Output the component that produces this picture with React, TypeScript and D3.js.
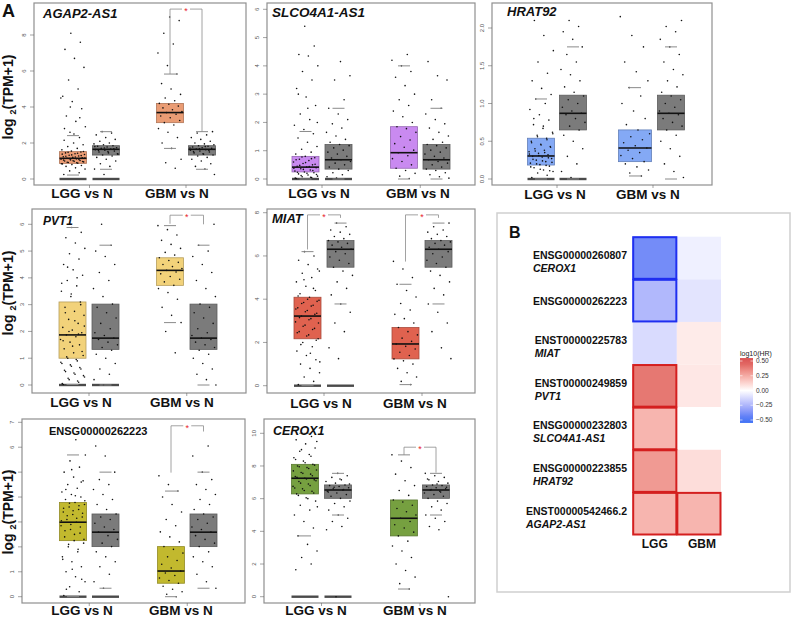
import React from 'react';
import * as d3 from 'd3';

const FONT = "'Liberation Sans', Arial, Helvetica, sans-serif";
const GRAY_FILL = '#7b7b7b';

// ---------------- Box statistics: [lower whisker, Q1, median, Q3, upper whisker] ----------------
const AGAP2_LGG_BOX = [0.22, 0.87, 1.15, 1.52, 2.41];
const AGAP2_N_BOX = [0.54, 1.33, 1.65, 1.85, 2.63];
const AGAP2_GBM_BOX = [1.7, 3.13, 3.69, 4.2, 5.83];
const SLCO_LGG_BOX = [0, 0.25, 0.42, 0.8, 1.68];
const SLCO_N_BOX = [0, 0.35, 0.68, 1.22, 2.5];
const SLCO_GBM_BOX = [0, 0.38, 0.93, 1.85, 4.0];
const HRAT_LGG_BOX = [0, 0.185, 0.305, 0.54, 1.06];
const HRAT_N_BOX = [0, 0.65, 0.87, 1.11, 1.75];
const HRAT_GBM_BOX = [0.04, 0.23, 0.41, 0.65, 1.21];
const PVT1_LGG_BOX = [0.02, 1.0, 1.87, 3.1, 5.88];
const PVT1_N_BOX = [0, 1.33, 1.75, 3.02, 5.22];
const PVT1_GBM_BOX = [2.33, 3.72, 4.28, 4.75, 5.95];
const MIAT_LGG_BOX = [0, 2.17, 3.22, 4.09, 6.2];
const MIAT_N_BOX = [3.78, 5.48, 6.31, 6.71, 7.52];
const MIAT_GBM_BOX = [0.05, 1.24, 1.93, 2.69, 4.69];
const ENSG_LGG_BOX = [0, 2.25, 2.99, 3.78, 5.69];
const ENSG_N_BOX = [0.34, 2.01, 2.59, 3.32, 5.0];
const ENSG_GBM_BOX = [0, 0.54, 1.03, 2.01, 4.24];
const CEROX_LGG_BOX = [3.72, 6.29, 7.25, 8.1, 10.0];
const CEROX_N_BOX = [5.0, 6.02, 6.53, 6.84, 7.55];
const CEROX_GBM_BOX = [0.47, 3.72, 4.8, 5.92, 8.68];

// ---------------- Sample values ----------------
const AGAP2_LGG_PTS = [0.25,0.35,0.45,0.55,0.62,0.7,0.75,0.8,0.84,0.88,0.92,0.95,0.98,1.0,1.03,1.06,1.1,1.12,1.15,1.18,1.2,1.24,1.28,1.32,1.36,1.4,1.45,1.5,1.55,1.62,1.7,1.8,1.9,2.0,2.15,2.3,2.6,2.9,3.2,3.5,3.9,4.3,4.6,5.0,5.5,6.2,6.7,7.2,7.6,8.1,0.85,0.9,0.93,0.97,1.01,1.05,1.08,1.13,1.17,1.22,1.26,1.3,1.34,1.38,1.43,1.48,1.53,2.5,2.8,3.4,4.0,4.5];
const AGAP2_N_PTS = [0.25,0.55,0.7,0.85,1.0,1.1,1.2,1.28,1.33,1.38,1.45,1.5,1.55,1.6,1.63,1.66,1.7,1.74,1.78,1.82,1.85,1.9,1.95,2.0,2.1,2.2,2.3,2.45,2.55,2.63,1.4,1.52,1.58,1.68,1.72,1.8];
const AGAP2_GBM_PTS = [0.6,0.9,1.1,1.7,2.0,2.3,2.6,2.8,3.0,3.13,3.25,3.4,3.5,3.6,3.69,3.75,3.85,3.95,4.05,4.15,4.2,4.35,4.5,4.7,5.0,5.3,5.83,6.3,7.0,7.5,8.1,8.8,9.0];
const SLCO_LGG_PTS = [0.02,0.05,0.08,0.1,0.14,0.18,0.22,0.25,0.28,0.32,0.36,0.4,0.42,0.45,0.5,0.55,0.6,0.65,0.7,0.75,0.8,0.88,0.95,1.05,1.15,1.3,1.45,1.6,1.75,1.9,2.1,2.3,2.6,2.9,3.2,3.5,3.8,4.0,4.35,4.4,4.7,5.4,0.03,0.06,0.12,0.16,0.2,0.24,0.3,0.34,0.38,0.44,0.48,0.52,0.58,0.68,0.72,0.78,2.0,2.5,3.0];
const SLCO_N_PTS = [0.03,0.08,0.15,0.22,0.3,0.35,0.42,0.5,0.56,0.62,0.68,0.74,0.8,0.88,0.95,1.02,1.1,1.18,1.22,1.3,1.4,1.52,1.65,1.8,1.95,2.1,2.3,2.5,2.8,3.5,3.65,4.15];
const SLCO_GBM_PTS = [0.02,0.1,0.2,0.3,0.38,0.5,0.62,0.72,0.82,0.93,1.02,1.12,1.25,1.38,1.5,1.65,1.78,1.85,2.0,2.2,2.4,2.6,2.8,3.0,3.3,3.6,3.8,4.0,4.2,4.4];
const HRAT_LGG_PTS = [0.02,0.05,0.08,0.1,0.12,0.15,0.17,0.19,0.21,0.23,0.25,0.27,0.29,0.3,0.32,0.34,0.36,0.38,0.4,0.43,0.46,0.5,0.54,0.58,0.62,0.67,0.72,0.78,0.85,0.92,1.0,1.06,1.12,1.2,1.3,1.4,1.55,1.7,1.9,2.1,0.11,0.13,0.16,0.18,0.2,0.22,0.24,0.26,0.28,0.31,0.33,0.35,0.37,0.42,0.45,0.48,0.52,0.56,0.6,0.7,0.8];
const HRAT_N_PTS = [0.02,0.1,0.2,0.3,0.4,0.5,0.58,0.65,0.7,0.75,0.8,0.85,0.87,0.9,0.95,1.0,1.05,1.1,1.15,1.22,1.3,1.38,1.45,1.55,1.65,1.75,1.85,1.95,2.02,2.1];
const HRAT_GBM_PTS = [0.04,0.08,0.12,0.16,0.2,0.23,0.27,0.31,0.35,0.38,0.41,0.44,0.48,0.52,0.56,0.6,0.65,0.72,0.8,0.9,1.0,1.1,1.21,1.3,1.42,1.55,1.75,1.9,2.15];
const PVT1_LGG_PTS = [0.02,0.1,0.2,0.3,0.4,0.5,0.6,0.7,0.8,0.9,1.0,1.1,1.2,1.35,1.5,1.6,1.7,1.8,1.87,1.95,2.05,2.15,2.3,2.45,2.6,2.75,2.9,3.1,3.3,3.5,3.7,3.9,4.1,4.3,4.5,4.7,4.9,5.1,5.3,5.5,5.7,5.88,0.05,0.15,0.25,0.35,0.45,0.55,0.65,0.75,0.85,0.95,1.05,1.25,1.45,1.65,1.9,2.0,2.2,2.4,2.7,3.0,3.4,3.8,4.0,4.4];
const PVT1_N_PTS = [0.0,0.2,0.4,0.6,0.8,1.0,1.15,1.3,1.4,1.5,1.6,1.7,1.75,1.85,1.95,2.1,2.3,2.5,2.7,2.9,3.02,3.3,3.6,3.9,4.2,4.5,4.8,5.0,5.22,6.0];
const PVT1_GBM_PTS = [1.2,2.0,2.33,2.6,2.9,3.2,3.45,3.6,3.72,3.85,3.95,4.05,4.15,4.22,4.28,4.35,4.42,4.5,4.58,4.65,4.75,4.85,4.95,5.1,5.25,5.4,5.6,5.8,5.95];
const MIAT_LGG_PTS = [0.05,0.2,0.4,0.6,0.8,1.0,1.2,1.4,1.6,1.8,2.0,2.17,2.35,2.5,2.65,2.8,2.95,3.1,3.22,3.35,3.48,3.6,3.72,3.85,3.95,4.09,4.25,4.4,4.6,4.8,5.0,5.2,5.4,5.6,5.8,6.0,6.2,1.1,1.5,1.9,2.1,2.3,2.45,2.6,2.75,2.9,3.05,3.15,3.3,3.42,3.55,3.68,3.8,3.9,4.0,4.15,4.5,4.9,5.3];
const MIAT_N_PTS = [1.25,1.75,2.5,2.9,3.4,3.78,4.2,4.5,4.8,5.1,5.3,5.48,5.65,5.8,5.95,6.1,6.2,6.31,6.4,6.5,6.58,6.65,6.71,6.8,6.9,7.0,7.1,7.2,7.35,7.52];
const MIAT_GBM_PTS = [0.05,0.2,0.4,0.6,0.8,1.0,1.15,1.24,1.4,1.55,1.7,1.82,1.93,2.05,2.2,2.35,2.5,2.69,2.9,3.1,3.3,3.5,3.8,4.1,4.4,4.69,5.0,5.4,5.75];
const ENSG_LGG_PTS = [0.05,0.2,0.4,0.6,0.8,1.0,1.2,1.4,1.6,1.8,2.0,2.15,2.25,2.4,2.55,2.7,2.85,2.99,3.1,3.2,3.3,3.4,3.5,3.6,3.7,3.78,3.9,4.0,4.1,4.2,4.35,4.5,4.65,4.8,5.0,5.2,5.45,5.69,6.3,0.3,0.7,1.1,1.5,1.9,2.1,2.3,2.5,2.65,2.8,2.9,3.05,3.15,3.25,3.35,3.45,3.55,3.65,3.75,3.85,4.05,4.3,4.6,5.1];
const ENSG_N_PTS = [0.34,0.6,0.9,1.2,1.4,1.6,1.8,2.01,2.15,2.3,2.45,2.59,2.7,2.8,2.95,3.1,3.2,3.32,3.5,3.7,3.9,4.1,4.3,4.5,4.7,5.0,5.65,6.05];
const ENSG_GBM_PTS = [0.0,0.1,0.2,0.3,0.42,0.54,0.65,0.75,0.85,0.95,1.03,1.15,1.3,1.45,1.6,1.75,1.9,2.01,2.2,2.4,2.6,2.85,3.1,3.4,3.7,4.0,4.24,4.5,4.85];
const CEROX_LGG_PTS = [1.65,2.0,2.4,2.8,3.2,3.72,4.2,4.6,5.0,5.3,5.6,5.85,6.05,6.29,6.45,6.6,6.75,6.9,7.05,7.15,7.25,7.35,7.5,7.6,7.75,7.9,8.0,8.1,8.3,8.5,8.7,8.9,9.1,9.35,9.6,9.8,10.0,5.5,6.0,6.2,6.35,6.5,6.65,6.8,6.95,7.1,7.2,7.3,7.4,7.55,7.7,7.85,7.95,8.05,8.2,8.4,8.6,9.0,9.5];
const CEROX_N_PTS = [0,4.1,4.3,4.6,4.8,5.0,5.3,5.5,5.7,5.85,6.02,6.15,6.25,6.35,6.45,6.53,6.6,6.67,6.74,6.8,6.84,6.95,7.05,7.15,7.3,7.4,7.55,6.4,6.55,6.7,6.9,7.2];
const CEROX_GBM_PTS = [0.47,0.8,1.2,1.6,2.0,2.4,2.8,3.1,3.4,3.72,3.95,4.2,4.4,4.6,4.8,5.0,5.2,5.4,5.6,5.8,5.92,6.2,6.5,6.8,7.1,7.5,7.9,8.3,8.68];

const GROUP_LABELS = ['LGG vs N', 'GBM vs N'];

// ---------------- Heatmap (B) ----------------
const HM_IDS = ['ENSG00000260807', 'ENSG00000262223', 'ENST00000225783', 'ENST00000249859', 'ENSG00000232803', 'ENSG00000223855', 'ENST00000542466.2'];
const HM_NAMES = ['CEROX1', '', 'MIAT', 'PVT1', 'SLCO4A1-AS1', 'HRAT92', 'AGAP2-AS1'];
const HM_COLS = ['LGG', 'GBM'];
const HM_LGG = [-0.40, -0.24, -0.12, 0.40, 0.22, 0.30, 0.22];
const HM_GBM = [-0.05, -0.09, 0.06, 0.07, 0.0, 0.1, 0.22];
const HM_SIG_LGG = [1, 1, 0, 1, 1, 1, 1];
const HM_SIG_GBM = [0, 0, 0, 0, 0, 0, 1];
const LEGEND_TICKS = [0.5, 0.25, 0, -0.25, -0.5];

// ---------------- Panel layout ----------------
type Bracket = { a: number; b: number; top: number; la: number; lb: number };
type Panel = {
  title: string; italic: boolean; tSize: number; tx: number; ty: number;
  rect: number[]; yMap: number[]; ticks: number[]; dec: boolean;
  cx: number[]; bw: number[]; lx: number[]; ly: number;
  color: string; boxes: number[][]; pts: number[][];
  brackets: Bracket[]; ylab?: number;
};

const PANELS: Panel[] = [
  {
    title: 'AGAP2-AS1', italic: true, tSize: 13, tx: 43, ty: 18,
    rect: [34, 3, 246, 185], yMap: [0, 179, 8, 35], ticks: [0, 2, 4, 6, 8], dec: false,
    cx: [73, 106, 170, 202], bw: [27, 27, 27, 27], lx: [82, 177], ly: 198,
    color: '#EA9C74',
    boxes: [AGAP2_LGG_BOX, AGAP2_N_BOX, AGAP2_GBM_BOX, AGAP2_N_BOX],
    pts: [AGAP2_LGG_PTS, AGAP2_N_PTS, AGAP2_GBM_PTS, AGAP2_N_PTS],
    brackets: [{ a: 2, b: 3, top: 9.44, la: 5.83, lb: 2.63 }], ylab: 97,
  },
  {
    title: 'SLCO4A1-AS1', italic: true, tSize: 13.5, tx: 272, ty: 17,
    rect: [267, 3, 475, 185], yMap: [0, 179, 6, 9.3], ticks: [0, 1, 2, 3, 4, 5, 6], dec: false,
    cx: [305.5, 338.5, 404, 436.5], bw: [27, 27, 27, 27], lx: [319, 418], ly: 198,
    color: '#C98AF0',
    boxes: [SLCO_LGG_BOX, SLCO_N_BOX, SLCO_GBM_BOX, SLCO_N_BOX],
    pts: [SLCO_LGG_PTS, SLCO_N_PTS, SLCO_GBM_PTS, SLCO_N_PTS],
    brackets: [],
  },
  {
    title: 'HRAT92', italic: true, tSize: 13, tx: 507, ty: 16,
    rect: [492, 3, 712, 185], yMap: [0, 179, 2, 28], ticks: [0, 0.5, 1, 1.5, 2], dec: true,
    cx: [541, 573, 635, 671], bw: [27, 27, 33, 27], lx: [555, 648], ly: 199,
    color: '#84A9F5',
    boxes: [HRAT_LGG_BOX, HRAT_N_BOX, HRAT_GBM_BOX, HRAT_N_BOX],
    pts: [HRAT_LGG_PTS, HRAT_N_PTS, HRAT_GBM_PTS, HRAT_N_PTS],
    brackets: [],
  },
  {
    title: 'PVT1', italic: true, tSize: 12, tx: 43, ty: 225,
    rect: [32, 209, 246, 393], yMap: [0, 385, 6, 224.3], ticks: [0, 1, 2, 3, 4, 5, 6], dec: false,
    cx: [72.5, 105.5, 170, 203.5], bw: [27, 27, 27, 27], lx: [81, 182], ly: 407,
    color: '#F2D27A',
    boxes: [PVT1_LGG_BOX, PVT1_N_BOX, PVT1_GBM_BOX, PVT1_N_BOX],
    pts: [PVT1_LGG_PTS, PVT1_N_PTS, PVT1_GBM_PTS, PVT1_N_PTS],
    brackets: [{ a: 2, b: 3, top: 6.34, la: 6.02, lb: 6.0 }], ylab: 293,
  },
  {
    title: 'MIAT', italic: true, tSize: 13, tx: 272, ty: 223,
    rect: [267, 209, 475, 393], yMap: [0, 385.7, 8, 212.7], ticks: [0, 2, 4, 6, 8], dec: false,
    cx: [307.5, 340.5, 405.5, 438.5], bw: [27, 27, 27, 27], lx: [321, 415], ly: 408,
    color: '#E0624F',
    boxes: [MIAT_LGG_BOX, MIAT_N_BOX, MIAT_GBM_BOX, MIAT_N_BOX],
    pts: [MIAT_LGG_PTS, MIAT_N_PTS, MIAT_GBM_PTS, MIAT_N_PTS],
    brackets: [
      { a: 0, b: 1, top: 7.9, la: 6.3, lb: 7.76 },
      { a: 2, b: 3, top: 7.9, la: 5.74, lb: 7.76 },
    ],
  },
  {
    title: 'ENSG00000262223', italic: false, tSize: 11, tx: 49, ty: 435,
    rect: [22, 419, 245, 603], yMap: [0, 596.7, 7, 422.3], ticks: [0, 1, 2, 3, 4, 5, 6, 7], dec: false,
    cx: [73, 105.5, 171, 203.5], bw: [27, 27, 27, 27], lx: [82, 181], ly: 615,
    color: '#C2B92E',
    boxes: [ENSG_LGG_BOX, ENSG_N_BOX, ENSG_GBM_BOX, ENSG_N_BOX],
    pts: [ENSG_LGG_PTS, ENSG_N_PTS, ENSG_GBM_PTS, ENSG_N_PTS],
    brackets: [{ a: 2, b: 3, top: 6.86, la: 4.98, lb: 6.63 }], ylab: 512,
  },
  {
    title: 'CEROX1', italic: true, tSize: 12.5, tx: 273, ty: 435,
    rect: [264, 419, 475, 603], yMap: [0, 596.7, 10, 433.3], ticks: [0, 2, 4, 6, 8, 10], dec: false,
    cx: [305, 338, 404, 436], bw: [27, 27, 27, 27], lx: [316, 415], ly: 615,
    color: '#76A040',
    boxes: [CEROX_LGG_BOX, CEROX_N_BOX, CEROX_GBM_BOX, CEROX_N_BOX],
    pts: [CEROX_LGG_PTS, CEROX_N_PTS, CEROX_GBM_PTS, CEROX_N_PTS],
    brackets: [{ a: 2, b: 3, top: 9.15, la: 8.68, lb: 7.59 }],
  },
];

function jit(j: number, i: number) {
  return ((j * 0.6180339887 + i * 0.29 + 0.13) % 1) - 0.5;
}

function BoxPanel({ p }: { p: Panel }) {
  const [x0, y0, x1, y1] = p.rect;
  const y = d3.scaleLinear().domain([p.yMap[0], p.yMap[2]]).range([p.yMap[1], p.yMap[3]]);
  const fmt = p.dec ? d3.format('.1f') : d3.format('d');
  const fills = [p.color, GRAY_FILL, p.color, GRAY_FILL];
  const gc = [(p.cx[0] + p.cx[1]) / 2, (p.cx[2] + p.cx[3]) / 2];
  return (
    <g>
      {p.boxes.map((b, i) => {
        const cx = p.cx[i], w = p.bw[i];
        const stroke = (d3.color(fills[i]) as any).darker(0.8).formatHex();
        return (
          <rect key={'b' + i} x={cx - w / 2} y={y(b[3])} width={w} height={y(b[1]) - y(b[3])}
            fill={fills[i]} stroke={stroke} strokeWidth={0.8} />
        );
      })}
      {[0, 1].map((i) => (
        <rect key={'z' + i} x={p.cx[i] - p.bw[i] / 2} y={y(0) - 1.2} width={p.bw[i]} height={2.4} fill="#4a4a4a" />
      ))}
      {p.pts.map((arr, i) =>
        arr.map((v, j) => (
          <circle key={`p${i}-${j}`} cx={p.cx[i] + jit(j, i) * p.bw[i] * 0.92} cy={y(v)} r={0.8} fill="#111" />
        ))
      )}
      {p.boxes.map((b, i) => (
        <line key={'m' + i} x1={p.cx[i] - p.bw[i] / 2} x2={p.cx[i] + p.bw[i] / 2} y1={y(b[2])} y2={y(b[2])}
          stroke="#111" strokeWidth={1.6} />
      ))}
      {p.boxes.map((b, i) => (
        <g key={'c' + i}>
          <line x1={p.cx[i] - 6} x2={p.cx[i] + 6} y1={y(b[4])} y2={y(b[4])} stroke="#8a8a8a" strokeWidth={1} />
          <line x1={p.cx[i] - 6} x2={p.cx[i] + 6} y1={y(b[0])} y2={y(b[0])} stroke="#8a8a8a" strokeWidth={1} />
        </g>
      ))}
      {p.brackets.map((br, k) => {
        const xa = p.cx[br.a], xb = p.cx[br.b], yt = y(br.top), xm = (xa + xb) / 2;
        return (
          <g key={'br' + k}>
            <path d={`M${xa},${y(br.la)}V${yt}H${xm - 4}M${xm + 4},${yt}H${xb}V${y(br.lb)}`}
              fill="none" stroke="#8a8a8a" strokeWidth={0.8} />
            <text x={xm} y={yt + 5} fontSize={9} fill="#e8242b" textAnchor="middle">*</text>
          </g>
        );
      })}
      <rect x={x0} y={y0} width={x1 - x0} height={y1 - y0} fill="none" stroke="#8f8f8f" strokeWidth={1.2} />
      {p.ticks.map((t) => (
        <g key={'t' + t}>
          <line x1={x0 - 4} x2={x0} y1={y(t)} y2={y(t)} stroke="#666" strokeWidth={0.6} />
          <text transform={`translate(${x0 - 8.5},${y(t)}) rotate(-90)`} textAnchor="middle" fontSize={6} fill="#555">
            {fmt(t)}
          </text>
        </g>
      ))}
      {gc.map((g, i) => (
        <line key={'xt' + i} x1={g} x2={g} y1={y1} y2={y1 + 3} stroke="#666" strokeWidth={0.6} />
      ))}
      {GROUP_LABELS.map((l, i) => (
        <text key={'l' + i} x={p.lx[i]} y={p.ly} textAnchor="middle" fontSize={13.5} fontWeight="bold" fill="#111">
          {l}
        </text>
      ))}
      <text x={p.tx} y={p.ty} fontSize={p.tSize} fontWeight="bold" fontStyle={p.italic ? 'italic' : 'normal'} fill="#111">
        {p.title}
      </text>
      {p.ylab !== undefined && (
        <text transform={`translate(12.5,${p.ylab}) rotate(-90)`} textAnchor="middle" fontSize={14} fontWeight="bold" fill="#111">
          log <tspan fontSize={9} dy={3}>2</tspan><tspan dy={-3}>(TPM+1)</tspan>
        </text>
      )}
    </g>
  );
}

let _ctx: CanvasRenderingContext2D | null = null;
function measure(text: string, font: string) {
  if (!_ctx) _ctx = document.createElement('canvas').getContext('2d');
  if (!_ctx) return text.length * 6;
  _ctx.font = font;
  return _ctx.measureText(text).width;
}

function Heatmap() {
  const xs = d3.scaleBand().domain(HM_COLS).range([632.7, 721]);
  const ys = d3.scaleBand().domain(HM_IDS).range([236.7, 535]);
  const color = d3.scaleLinear<string>().domain([-0.5, 0, 0.5]).range(['#3F72F5', '#ffffff', '#DA5252'])
    .interpolate(d3.interpolateLab).clamp(true);
  const vals = [HM_LGG, HM_GBM];
  const sigs = [HM_SIG_LGG, HM_SIG_GBM];
  const ly = d3.scaleLinear().domain([0.5, -0.5]).range([361, 420]);
  const gradStops = d3.range(0, 11).map((k) => 0.55 - k * 0.11);
  const idFont = `bold 10.5px ${FONT}`;
  return (
    <g>
      <rect x={497} y={213} width={293} height={379} fill="#fff" stroke="#cfcfcf" strokeWidth={1.5} />
      <text x={509} y={238} fontSize={16} fontWeight="bold" fill="#111">B</text>
      {HM_COLS.map((c, ci) =>
        HM_IDS.map((id, ri) => (
          <rect key={c + id} x={xs(c)} y={ys(id)} width={xs.bandwidth()} height={ys.bandwidth()} fill={color(vals[ci][ri])} />
        ))
      )}
      {HM_COLS.map((c, ci) =>
        HM_IDS.map((id, ri) =>
          sigs[ci][ri] ? (
            <rect key={'s' + c + id} x={(xs(c) as number) + 0.5} y={(ys(id) as number) + 0.5} width={xs.bandwidth() - 1}
              height={ys.bandwidth() - 1} fill="none" stroke={vals[ci][ri] < 0 ? '#1F2FF0' : '#D41F1F'} strokeWidth={2} />
          ) : null
        )
      )}
      {HM_IDS.map((id, ri) => {
        const cy = (ys(id) as number) + ys.bandwidth() / 2;
        const w = measure(id, idFont);
        const left = 627 - w;
        const name = HM_NAMES[ri];
        return (
          <g key={'lab' + id}>
            <text x={left} y={name ? cy + 1 : cy + 4} fontSize={10.5} fontWeight="bold" fill="#111">{id}</text>
            {name && (
              <text x={left} y={cy + 14} fontSize={10.5} fontWeight="bold" fontStyle="italic" fill="#111">{name}</text>
            )}
          </g>
        );
      })}
      {HM_COLS.map((c) => (
        <text key={'col' + c} x={(xs(c) as number) + xs.bandwidth() / 2 + (c === 'GBM' ? 3 : 0)} y={548}
          textAnchor="middle" fontSize={12} fontWeight="bold" fill="#111">{c}</text>
      ))}
      <defs>
        <linearGradient id="hmgrad" x1="0" y1="0" x2="0" y2="1">
          {gradStops.map((v, k) => (
            <stop key={k} offset={`${k * 10}%`} stopColor={color(v)} />
          ))}
        </linearGradient>
      </defs>
      <text x={740} y={356} fontSize={7} fill="#222">log10(HR)</text>
      <rect x={740} y={ly(0.55)} width={13} height={ly(-0.55) - ly(0.55)} fill="url(#hmgrad)" />
      {LEGEND_TICKS.map((t) => (
        <g key={'lt' + t}>
          <line x1={740} x2={742.5} y1={ly(t)} y2={ly(t)} stroke="#fff" strokeWidth={0.6} />
          <line x1={750.5} x2={753} y1={ly(t)} y2={ly(t)} stroke="#fff" strokeWidth={0.6} />
          <text x={756} y={ly(t) + 2.2} fontSize={6.5} fill="#333">
            {t < 0 ? '\u2212' + d3.format('.2f')(-t) : d3.format('.2f')(t)}
          </text>
        </g>
      ))}
    </g>
  );
}

export default function App() {
  return (
    <svg width={792} height={619} viewBox="0 0 792 619" fontFamily={FONT}
      style={{ position: 'absolute', left: 0, top: 0, background: '#fff' }}>
      <rect width={792} height={619} fill="#fff" />
      <text x={2} y={17} fontSize={18} fontWeight="bold" fill="#111">A</text>
      {PANELS.map((p, i) => <BoxPanel key={i} p={p} />)}
      <Heatmap />
    </svg>
  );
}
